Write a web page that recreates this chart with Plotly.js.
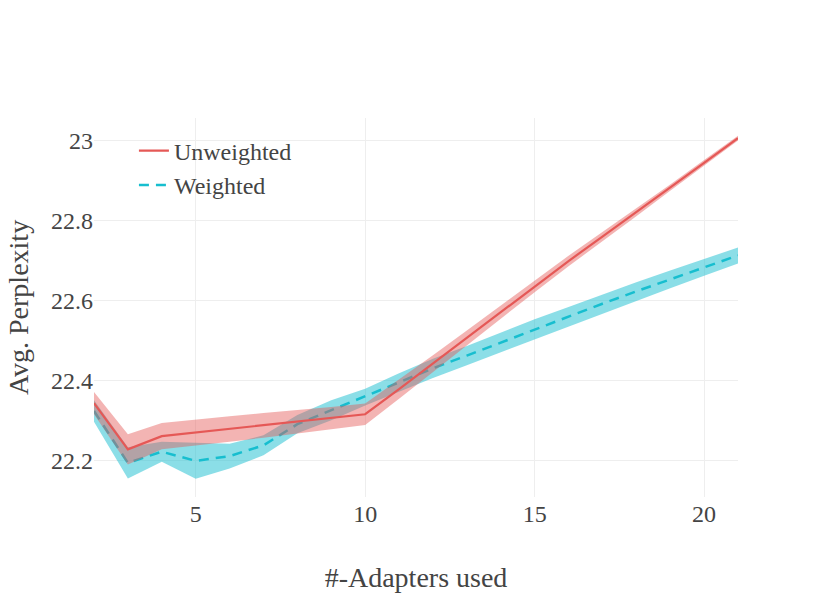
<!DOCTYPE html>
<html>
<head>
<meta charset="utf-8">
<script src="https://cdn.plot.ly/plotly-3.0.1.min.js"></script>
<style>html,body{margin:0;padding:0;background:#fff;}#chart{width:830px;height:593px;}</style>
</head>
<body>
<div id="chart"></div>
<script>
const adapters = [2,3,4,5,6,7,8,9,10,11,12,13,14,15,16,17,18,19,20,21];

const unweighted      = [22.343,22.227,22.260,22.269,22.278,22.287,22.296,22.305,22.315,22.378,22.442,22.506,22.571,22.636,22.699,22.760,22.821,22.883,22.945,23.007];
const unweightedUpper = [22.371,22.265,22.293,22.302,22.310,22.318,22.325,22.333,22.342,22.402,22.463,22.525,22.588,22.651,22.712,22.772,22.831,22.891,22.952,23.013];
const unweightedLower = [22.315,22.189,22.227,22.236,22.246,22.256,22.267,22.277,22.288,22.354,22.421,22.487,22.554,22.621,22.686,22.748,22.811,22.875,22.938,23.001];

const weighted      = [22.323,22.193,22.221,22.198,22.210,22.237,22.290,22.325,22.358,22.395,22.430,22.462,22.495,22.528,22.560,22.592,22.623,22.653,22.683,22.713];
const weightedUpper = [22.350,22.232,22.246,22.243,22.241,22.262,22.313,22.350,22.379,22.418,22.454,22.486,22.520,22.553,22.584,22.616,22.646,22.675,22.704,22.733];
const weightedLower = [22.296,22.154,22.196,22.153,22.179,22.212,22.267,22.300,22.337,22.372,22.406,22.438,22.470,22.503,22.536,22.568,22.600,22.631,22.662,22.693];

const xTickVals = [5,10,15,20];
const yTickVals = [22.2,22.4,22.6,22.8,23];
const yTickText = ['22.2','22.4','22.6','22.8','23'];

const RED = 'rgb(229,88,86)';
const RED_FILL = 'rgba(229,88,86,0.45)';
const CYAN = 'rgb(23,190,207)';
const CYAN_FILL = 'rgba(23,190,207,0.5)';
const SERIF = 'Liberation Serif, Times New Roman, serif';

const traces = [
  {x: adapters, y: weightedLower, mode: 'lines', line: {width: 0, color: CYAN}, showlegend: false, hoverinfo: 'skip'},
  {x: adapters, y: weightedUpper, mode: 'lines', line: {width: 0, color: CYAN}, fill: 'tonexty', fillcolor: CYAN_FILL, showlegend: false, hoverinfo: 'skip'},
  {x: adapters, y: weighted, mode: 'lines', name: 'Weighted', line: {color: CYAN, width: 2.5, dash: '10px,7px'}, legendrank: 2},
  {x: adapters, y: unweightedLower, mode: 'lines', line: {width: 0, color: RED}, showlegend: false, hoverinfo: 'skip'},
  {x: adapters, y: unweightedUpper, mode: 'lines', line: {width: 0, color: RED}, fill: 'tonexty', fillcolor: RED_FILL, showlegend: false, hoverinfo: 'skip'},
  {x: adapters, y: unweighted, mode: 'lines', name: 'Unweighted', line: {color: RED, width: 2.2}, legendrank: 1}
];

const layout = {
  width: 830, height: 593,
  margin: {l: 94, r: 92, t: 118, b: 96},
  paper_bgcolor: '#fff', plot_bgcolor: '#fff',
  font: {family: SERIF, color: '#444', size: 22},
  showlegend: true,
  legend: {x: 0.062, y: 0.972, xanchor: 'left', yanchor: 'top', traceorder: 'normal', bgcolor: 'rgba(0,0,0,0)', font: {family: SERIF, size: 24, color: '#444'}},
  xaxis: {
    range: [2, 21], tickvals: xTickVals, ticks: '', showgrid: true, gridcolor: '#eeeeee', zeroline: false, showline: false,
    tickfont: {family: SERIF, size: 24, color: '#444'},
    title: {text: '#-Adapters used', font: {family: SERIF, size: 28, color: '#444'}, standoff: 41}
  },
  yaxis: {
    range: [22.1075, 23.0575], tickvals: yTickVals, ticktext: yTickText, ticks: '', showgrid: true, gridcolor: '#eeeeee', zeroline: false, showline: false,
    tickfont: {family: SERIF, size: 24, color: '#444'},
    title: {text: 'Avg. Perplexity', font: {family: SERIF, size: 28, color: '#444'}, standoff: 14}
  }
};

Plotly.newPlot('chart', traces, layout, {displayModeBar: false, staticPlot: true});
</script>
</body>
</html>
